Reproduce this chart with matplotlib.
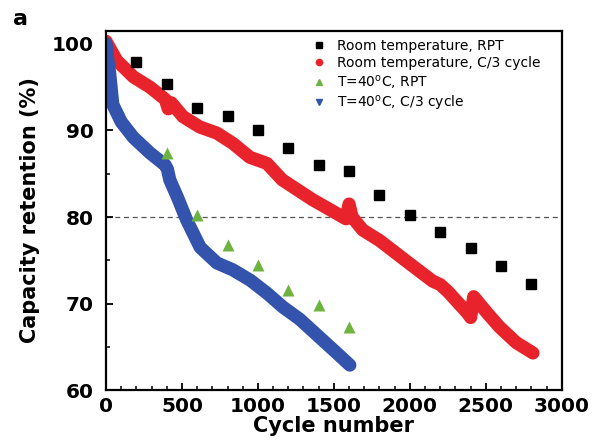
import matplotlib
matplotlib.use("Agg")
import matplotlib.pyplot as plt
from matplotlib.ticker import MultipleLocator

plt.rcParams['font.family'] = ['DejaVu Sans']

# 室温 RPT
rt_rpt_cycle = [200, 400, 600, 800, 1000, 1200, 1400, 1600, 1800, 2000, 2200, 2400, 2600, 2800]
rt_rpt_val = [97.9, 95.4, 92.6, 91.7, 90.1, 88.0, 86.0, 85.3, 82.5, 80.2, 78.3, 76.4, 74.3, 72.3]

# 室温 C/3 循环
rt_cyc_cycle = [0, 70, 180, 290, 390, 410, 430, 507, 618, 730, 836, 947, 1059, 1160, 1360,
                1580, 1600, 1620, 1690, 1800, 2000, 2150, 2200, 2250, 2380, 2400, 2420,
                2510, 2590, 2700, 2810]
rt_cyc_val = [100.3, 98.1, 96.2, 95.0, 93.6, 92.5, 93.2, 91.6, 90.4, 89.7, 88.5, 86.9, 86.2,
              84.3, 82.0, 79.8, 81.5, 80.0, 78.5, 77.3, 74.6, 72.6, 72.2, 71.4, 68.9, 68.4,
              70.8, 68.9, 67.3, 65.5, 64.3]

# 40°C RPT
ht_rpt_cycle = [400, 600, 800, 1000, 1200, 1400, 1600]
ht_rpt_val = [87.4, 80.2, 76.8, 74.5, 71.6, 69.8, 67.3]

# 40°C C/3 循环
ht_cyc_cycle = [0, 10, 25, 45, 100, 180, 290, 390, 405, 420, 470, 530, 620, 730, 835, 950,
                1060, 1165, 1275, 1400, 1500, 1605]
ht_cyc_val = [100, 98.5, 96.5, 93.0, 91.0, 89.2, 87.4, 86.0, 85.5, 84.3, 82.3, 79.7, 76.5,
              74.7, 73.9, 72.7, 71.2, 69.6, 68.2, 66.2, 64.6, 62.9]

fig = plt.figure(figsize=(5.92, 4.48), dpi=100)
ax = fig.add_axes([0.179, 0.129, 0.770, 0.802])

ax.axhline(80, color='#555555', ls=(0, (4, 3)), lw=0.9, zorder=1)

ax.plot(rt_cyc_cycle, rt_cyc_val, color='#e8232b', lw=9.5, solid_capstyle='round',
        solid_joinstyle='round', zorder=2)
ax.plot(ht_cyc_cycle, ht_cyc_val, color='#3353ac', lw=9.5, solid_capstyle='round',
        solid_joinstyle='round', zorder=2)
ax.plot(rt_rpt_cycle, rt_rpt_val, 's', color='black', ms=7, zorder=3)
ax.plot(ht_rpt_cycle, ht_rpt_val, '^', color='#6db33f', ms=8, mec='none', zorder=3)

# 图例（手动句柄）
h1, = ax.plot([], [], 's', color='black', ms=4)
h2, = ax.plot([], [], 'o', color='#e8232b', ms=4.5)
h3, = ax.plot([], [], '^', color='#6db33f', ms=4.5)
h4, = ax.plot([], [], 'v', color='#3353ac', ms=4.5)
ax.legend([h1, h2, h3, h4],
          ['Room temperature, RPT', 'Room temperature, C/3 cycle',
           r'T=40$^{\rm o}$C, RPT', r'T=40$^{\rm o}$C, C/3 cycle'],
          loc='upper left', bbox_to_anchor=(0.43, 1.0), frameon=False,
          fontsize=10, handletextpad=0.75, handlelength=1.2, labelspacing=0.2,
          borderaxespad=0.2)

ax.set_xlim(0, 3000)
ax.set_ylim(60, 101.5)
ax.xaxis.set_major_locator(MultipleLocator(500))
ax.xaxis.set_minor_locator(MultipleLocator(100))
ax.yaxis.set_major_locator(MultipleLocator(10))
ax.yaxis.set_minor_locator(MultipleLocator(5))
ax.tick_params(which='both', direction='in', top=False, right=False)
ax.tick_params(which='major', length=5, width=1.3, labelsize=14.5)
ax.tick_params(which='minor', length=3, width=1.1)
ax.tick_params(axis='y', which='major', pad=9)
ax.tick_params(axis='x', which='major', pad=5)
for lab in ax.get_xticklabels() + ax.get_yticklabels():
    lab.set_fontweight('bold')
for s in ax.spines.values():
    s.set_linewidth(1.6)

ax.set_xlabel('Cycle number', fontsize=15, fontweight='bold', labelpad=0)
ax.set_ylabel('Capacity retention (%)', fontsize=15, fontweight='bold', labelpad=8)

fig.text(0.022, 0.958, 'a', fontsize=16, fontweight='bold', ha='left', va='center')

fig.savefig('out.png', dpi=100)
